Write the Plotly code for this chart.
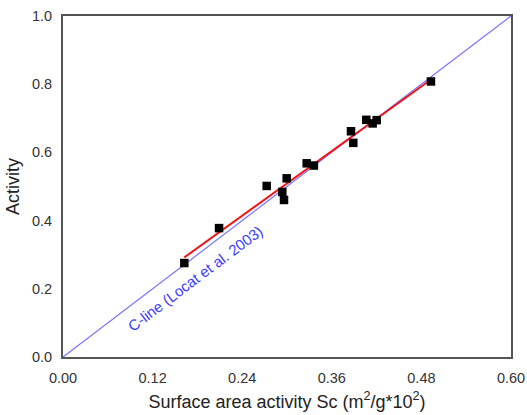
import numpy as np
import plotly.graph_objects as go

# Measured samples: surface area activity Sc vs. activity
sc = [0.1625, 0.209, 0.2728, 0.2937, 0.296, 0.2996, 0.3264, 0.336,
      0.3857, 0.3888, 0.4062, 0.4147, 0.4201, 0.4928]
activity = [0.2755, 0.378, 0.5016, 0.484, 0.4605, 0.524, 0.568, 0.5615,
            0.662, 0.628, 0.6955, 0.685, 0.6946, 0.808]

# C-line of Locat et al. (2003)
cline_x = [0.0, 0.6]
cline_y = [0.0, 1.0]

x_ticks = [0.00, 0.12, 0.24, 0.36, 0.48, 0.60]
y_ticks = [0.0, 0.2, 0.4, 0.6, 0.8, 1.0]

# Least-squares fit through the samples
slope, intercept = np.polyfit(sc, activity, 1)
fit_x = [min(sc), max(sc)]
fit_y = [slope * v + intercept for v in fit_x]

FONT = "Liberation Sans, Arial"

fig = go.Figure()
fig.add_trace(go.Scatter(x=cline_x, y=cline_y, mode="lines",
                         line=dict(color="rgb(115,115,255)", width=1.2),
                         showlegend=False, hoverinfo="skip"))
fig.add_trace(go.Scatter(x=fit_x, y=fit_y, mode="lines",
                         line=dict(color="rgb(240,20,20)", width=2),
                         showlegend=False))
fig.add_trace(go.Scatter(x=sc, y=activity, mode="markers",
                         marker=dict(symbol="square", size=8.5, color="black"),
                         showlegend=False))

fig.add_annotation(x=0.1768, y=0.2305, xref="x", yref="y",
                   text="C-line (Locat et al. 2003)", showarrow=False,
                   textangle=-37, font=dict(color="rgb(60,60,255)", size=15,
                                            family=FONT),
                   xanchor="center", yanchor="middle")

axis_common = dict(showgrid=False, zeroline=False, showline=True, mirror=True,
                   linecolor="#555555", linewidth=2, ticks="", automargin=False,
                   tickfont=dict(size=14.5, color="#333333", family=FONT))

fig.update_xaxes(range=[0, 0.6], tickvals=x_ticks,
                 ticktext=[f"{v:.2f}" for v in x_ticks],
                 ticklabelstandoff=7,
                 title=dict(text="Surface area activity Sc (m<sup>2</sup>/g*10<sup>2</sup>)",
                            font=dict(size=18, color="#222222", family=FONT),
                            standoff=10),
                 **axis_common)
fig.update_yaxes(range=[0, 1.0], tickvals=y_ticks,
                 ticktext=[f"{v:.1f}" for v in y_ticks],
                 ticklabelstandoff=6,
                 title=dict(text="Activity",
                            font=dict(size=18, color="#222222", family=FONT),
                            standoff=8),
                 **axis_common)

fig.update_layout(width=527, height=415,
                  margin=dict(l=63, r=16, t=16, b=58),
                  plot_bgcolor="white", paper_bgcolor="white")

fig.write_html("out.html")
